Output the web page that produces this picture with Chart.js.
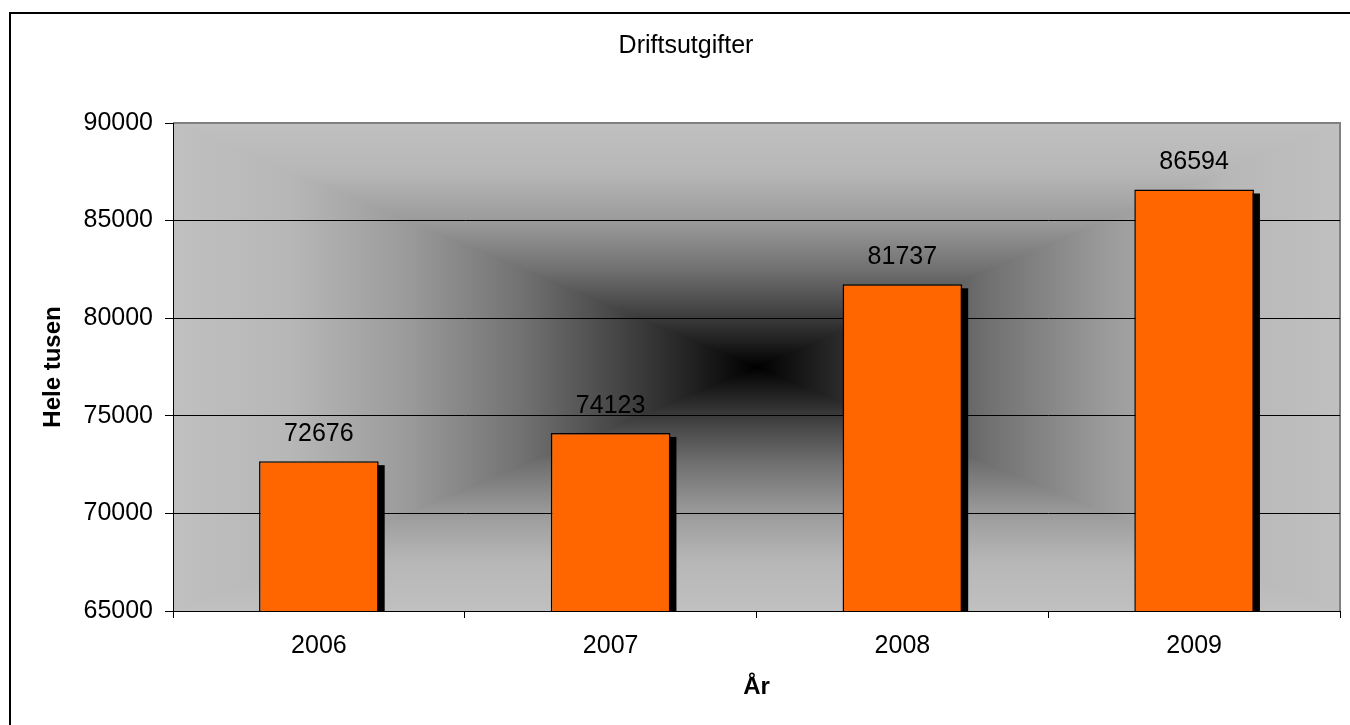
<!DOCTYPE html>
<html>
<head>
<meta charset="utf-8">
<script src="https://cdn.jsdelivr.net/npm/chart.js@4"></script>
<style>
  html, body { margin: 0; padding: 0; background: #fff; overflow: hidden; }
  #frame { position: absolute; left: 9px; top: 12px; width: 1400px; height: 800px; border: 2px solid #000; }
  #wrap { position: absolute; left: 11px; top: 14px; width: 1350px; height: 711px; }
</style>
</head>
<body>
<div id="frame"></div>
<div id="wrap"><canvas id="chart"></canvas></div>
<script>
const years = ['2006', '2007', '2008', '2009'];
const driftsutgifter = [72676, 74123, 81737, 86594];
const yMin = 65000, yMax = 90000, yStep = 5000;

const FONT = "Arial, 'Liberation Sans', sans-serif";

// rectangular "from centre" gradient behind the plot area
const plotBackground = {
  id: 'plotBackground',
  beforeDraw(chart) {
    const { ctx, chartArea: a } = chart;
    const cx = (a.left + a.right) / 2, cy = (a.top + a.bottom) / 2;
    const stops = [[0, '#c0c0c0'], [0.2, '#b7b7b7'], [0.4, '#9b9b9b'], [0.6, '#717171'], [0.8, '#3b3b3b'], [0.9, '#1e1e1e'], [1, '#000000']];
    ctx.save();
    // left/right half: whole rect, mirrored horizontal gradient
    const h = ctx.createLinearGradient(a.left, 0, a.right, 0);
    stops.forEach(s => { h.addColorStop(s[0] / 2, s[1]); h.addColorStop(1 - s[0] / 2, s[1]); });
    ctx.fillStyle = h;
    ctx.fillRect(a.left, a.top, a.right - a.left, a.bottom - a.top);
    // top and bottom triangles with vertical gradient
    const v = ctx.createLinearGradient(0, a.top, 0, a.bottom);
    stops.forEach(s => { v.addColorStop(s[0] / 2, s[1]); v.addColorStop(1 - s[0] / 2, s[1]); });
    ctx.fillStyle = v;
    ctx.beginPath();
    ctx.moveTo(a.left, a.top);
    ctx.lineTo(a.right, a.top);
    ctx.lineTo(cx, cy);
    ctx.closePath();
    ctx.moveTo(a.left, a.bottom);
    ctx.lineTo(a.right, a.bottom);
    ctx.lineTo(cx, cy);
    ctx.closePath();
    ctx.fill();
    // grey frame top/right
    ctx.strokeStyle = '#808080';
    ctx.lineWidth = 2;
    ctx.beginPath();
    ctx.moveTo(a.left, a.top);
    ctx.lineTo(a.right, a.top);
    ctx.lineTo(a.right, a.bottom);
    ctx.stroke();
    ctx.restore();
  }
};

// black drop shadow behind bars + value labels above
const barExtras = {
  id: 'barExtras',
  beforeDatasetsDraw(chart) {
    const { ctx, chartArea: a } = chart;
    ctx.save();
    ctx.beginPath();
    ctx.rect(a.left, a.top, a.right - a.left, a.bottom - a.top);
    ctx.clip();
    ctx.fillStyle = '#000';
    chart.getDatasetMeta(0).data.forEach(bar => {
      const w = bar.width;
      ctx.fillRect(bar.x - w / 2 + 6, bar.y + 4, w, bar.base - bar.y);
    });
    ctx.restore();
  },
  afterDatasetsDraw(chart) {
    const { ctx } = chart;
    ctx.save();
    ctx.fillStyle = '#000';
    ctx.font = '25px ' + FONT;
    ctx.textAlign = 'center';
    ctx.textBaseline = 'middle';
    chart.getDatasetMeta(0).data.forEach((bar, i) => {
      ctx.fillText(String(driftsutgifter[i]), bar.x, bar.y - 27);
    });
    ctx.restore();
  }
};

new Chart(document.getElementById('chart'), {
  type: 'bar',
  data: {
    labels: years,
    datasets: [{
      data: driftsutgifter,
      backgroundColor: '#ff6600',
      borderColor: '#000',
      borderWidth: 1.5,
      borderSkipped: false,
      categoryPercentage: 1,
      barPercentage: 0.41
    }]
  },
  options: {
    responsive: true,
    maintainAspectRatio: false,
    animation: false,
    events: [],
    layout: { padding: 0 },
    plugins: {
      legend: { display: false },
      tooltip: { enabled: false },
      title: {
        display: true,
        text: 'Driftsutgifter',
        color: '#000',
        font: { family: FONT, size: 25, weight: 'normal' },
        padding: { top: 17, bottom: 62 }
      }
    },
    scales: {
      x: {
        afterFit: s => { s.height = 114; },
        grid: { display: true, drawOnChartArea: false, offset: true, tickLength: 7, color: '#000', tickColor: '#000' },
        border: { display: true, color: '#000', width: 1 },
        ticks: { color: '#000', padding: 13, font: { family: FONT, size: 25 } },
        title: {
          display: true,
          text: 'År',
          color: '#000',
          font: { family: FONT, size: 24, weight: 'bold' },
          padding: { top: 0, bottom: 23 }
        }
      },
      y: {
        min: yMin,
        max: yMax,
        afterFit: s => { s.width = 162; },
        grid: {
          color: c => (c.tick && c.tick.value === yMax ? 'rgba(0,0,0,0)' : '#000'),
          tickColor: '#000',
          tickLength: 8,
          lineWidth: 1
        },
        border: { display: true, color: '#000', width: 1 },
        ticks: {
          stepSize: yStep,
          color: '#000',
          padding: 12,
          font: { family: FONT, size: 25 },
          callback: v => String(v)
        },
        title: {
          display: true,
          text: 'Hele tusen',
          color: '#000',
          font: { family: FONT, size: 24, weight: 'bold' },
          padding: { top: 28, bottom: 0 }
        }
      },
      // empty right-hand box so the chart title centres on the whole canvas
      spacer: {
        type: 'linear',
        position: 'right',
        display: true,
        afterFit: s => { s.width = 21; },
        grid: { display: false },
        border: { display: false },
        ticks: { display: false }
      }
    }
  },
  plugins: [plotBackground, barExtras]
});
</script>
</body>
</html>
